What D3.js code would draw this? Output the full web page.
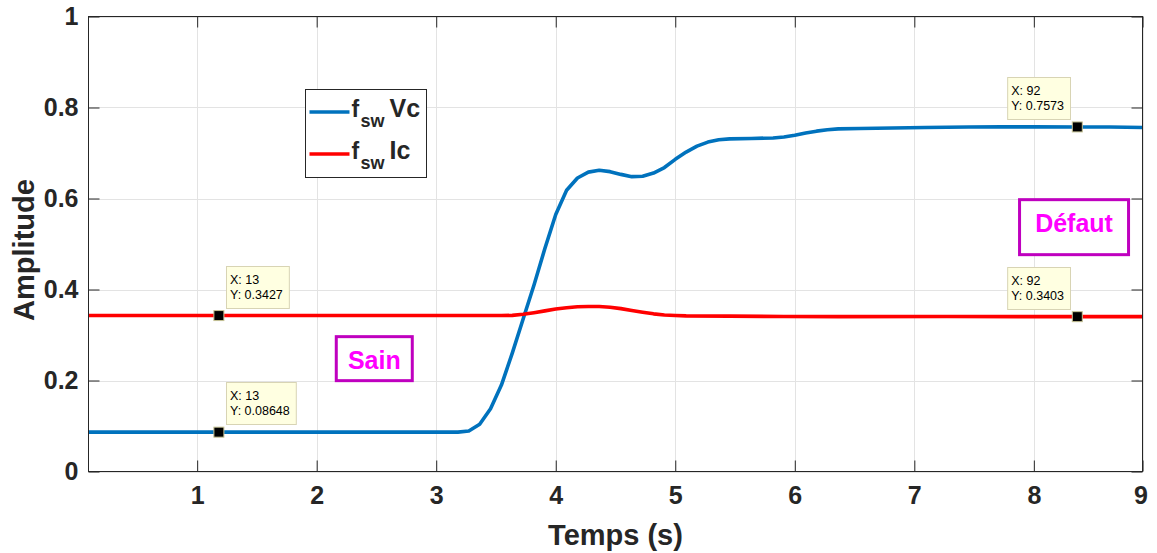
<!DOCTYPE html>
<html>
<head>
<meta charset="utf-8">
<script src="https://cdn.jsdelivr.net/npm/d3@7"></script>
<style>
  html, body { margin: 0; padding: 0; background: #fff; }
  svg { display: block; }
  text { font-family: "Liberation Sans", Arial, Helvetica, sans-serif; }
</style>
</head>
<body>
<svg id="chart" width="1157" height="553"></svg>
<script>
// ---- data (x in sample index, labelled in seconds) ----
const vcIndex = [1, 13, 25, 34, 35, 36, 37, 38, 39, 40, 41, 42, 43, 44, 45, 46, 47, 48, 49, 50, 51, 52, 53, 54, 55, 56, 57, 58, 59, 60, 62, 64, 65, 66, 67, 68, 69, 70, 72, 75, 78, 82, 85, 88, 92, 95, 98];
const vcValues = [0.08648, 0.08648, 0.08648, 0.0865, 0.0866, 0.089, 0.104, 0.138, 0.19, 0.26, 0.335, 0.41, 0.49, 0.565, 0.618, 0.645, 0.658, 0.662, 0.659, 0.653, 0.648, 0.649, 0.656, 0.668, 0.686, 0.702, 0.715, 0.724, 0.729, 0.731, 0.732, 0.733, 0.735, 0.739, 0.744, 0.748, 0.751, 0.753, 0.754, 0.755, 0.756, 0.757, 0.7575, 0.7575, 0.7573, 0.757, 0.756];
const icIndex = [1, 13, 39, 40, 41, 42, 43, 44, 45, 46, 47, 48, 49, 50, 51, 52, 53, 54, 55, 56, 60, 65, 70, 80, 92, 98];
const icValues = [0.3427, 0.3427, 0.3427, 0.3432, 0.3455, 0.349, 0.353, 0.357, 0.360, 0.362, 0.3628, 0.3625, 0.361, 0.358, 0.354, 0.350, 0.3465, 0.344, 0.3428, 0.342, 0.3415, 0.3405, 0.3403, 0.3405, 0.3403, 0.3403];

const xTickValues = [11, 22, 33, 44, 55, 66, 77, 88, 98];
const xTickLabels = ["1", "2", "3", "4", "5", "6", "7", "8", "9"];
const yTickValues = [0, 0.2, 0.4, 0.6, 0.8, 1];
const yTickLabels = ["0", "0.2", "0.4", "0.6", "0.8", "1"];

const seriesNames = ["Vc", "Ic"];
const seriesColors = ["#0072BD", "#FF0000"];

const tipX = [13, 13, 92, 92];
const tipY = [0.3427, 0.08648, 0.7573, 0.3403];
const tipSide = ["right", "right", "left", "left"];

const annotations = ["Sain", "Défaut"];
const annotX = [27.3, 91.7];
const annotY = [0.248, 0.537];

// ---- layout ----
const svg = d3.select("#chart");
const L = 88.5, R = 1142.5, T = 16.5, B = 471.5;
const x = d3.scaleLinear().domain([1, 98]).range([L, R]);
const y = d3.scaleLinear().domain([0, 1]).range([B, T]);
const ink = "#262626";

// grid
const grid = svg.append("g");
grid.selectAll(".gx").data(xTickValues).join("line")
  .attr("x1", d => Math.round(x(d)) + 0.5).attr("x2", d => Math.round(x(d)) + 0.5)
  .attr("y1", T).attr("y2", B)
  .attr("stroke", "#e3e3e3").attr("stroke-width", 1);
grid.selectAll(".gy").data(yTickValues).join("line")
  .attr("x1", L).attr("x2", R)
  .attr("y1", d => Math.round(y(d)) + 0.5).attr("y2", d => Math.round(y(d)) + 0.5)
  .attr("stroke", "#e3e3e3").attr("stroke-width", 1);

// lines
const line = d3.line().x(d => x(d[0])).y(d => y(d[1]));
const seriesData = [
  d3.zip(vcIndex, vcValues),
  d3.zip(icIndex, icValues)
];
svg.append("g").selectAll("path").data(seriesData).join("path")
  .attr("d", line)
  .attr("fill", "none")
  .attr("stroke", (d, i) => seriesColors[i])
  .attr("stroke-width", 3.6)
  .attr("stroke-linejoin", "round");

// axes
function styleAxis(g) {
  g.select(".domain").remove();
  g.selectAll(".tick line").attr("stroke", ink).attr("stroke-width", 1);
  g.selectAll(".tick text").attr("fill", ink).attr("font-weight", "bold").attr("font-size", 25);
}
const xFmt = d => xTickLabels[xTickValues.indexOf(d)];
const yFmt = d => yTickLabels[yTickValues.indexOf(d)];

svg.append("g").attr("transform", `translate(0,${B})`)
  .call(d3.axisBottom(x).tickValues(xTickValues).tickFormat(xFmt).tickSize(-11).tickPadding(15))
  .call(styleAxis)
  .call(g => g.selectAll(".tick").filter(d => d === 98).select("text").attr("dx", -2));
svg.append("g").attr("transform", `translate(0,${T})`)
  .call(d3.axisTop(x).tickValues(xTickValues).tickFormat("").tickSize(-11))
  .call(styleAxis);
svg.append("g").attr("transform", `translate(${L},0)`)
  .call(d3.axisLeft(y).tickValues(yTickValues).tickFormat(yFmt).tickSize(-11).tickPadding(10))
  .call(styleAxis);
svg.append("g").attr("transform", `translate(${R},0)`)
  .call(d3.axisRight(y).tickValues(yTickValues).tickFormat("").tickSize(-11))
  .call(styleAxis);

// box
svg.append("rect").attr("x", L).attr("y", T).attr("width", R - L).attr("height", B - T)
  .attr("fill", "none").attr("stroke", ink).attr("stroke-width", 1);

// axis labels
svg.append("text").attr("x", (L + R) / 2).attr("y", 545).attr("text-anchor", "middle")
  .attr("font-size", 29).attr("font-weight", "bold").attr("fill", ink).text("Temps (s)");
svg.append("text").attr("transform", `translate(34,${(T + B) / 2 + 6}) rotate(-90)`)
  .attr("text-anchor", "middle")
  .attr("font-size", 29).attr("font-weight", "bold").attr("fill", ink).text("Amplitude");

// legend
const lg = svg.append("g").attr("transform", "translate(305.5,89.5)");
lg.append("rect").attr("width", 121).attr("height", 88).attr("fill", "#fff").attr("stroke", ink).attr("stroke-width", 1);
seriesNames.forEach((name, i) => {
  const cy = 22.5 + i * 42;
  lg.append("line").attr("x1", 4).attr("x2", 44).attr("y1", cy).attr("y2", cy)
    .attr("stroke", seriesColors[i]).attr("stroke-width", 3.6);
  const t = lg.append("g").attr("font-weight", "bold").attr("fill", ink);
  t.append("text").attr("x", 46).attr("y", cy + 5).attr("font-size", 23).text("f");
  t.append("text").attr("x", 55).attr("y", cy + 15).attr("font-size", 18).text("sw");
  t.append("text").attr("x", 84).attr("y", cy + 5).attr("font-size", 25).text(name);
});

// annotations
const annotBox = [[76, 44], [109, 55]];
const annotTextDy = [10, 5];
annotations.forEach((s, i) => {
  const g = svg.append("g");
  const cx = x(annotX[i]), cy = y(annotY[i]);
  const [bw, bh] = annotBox[i];
  g.append("rect")
    .attr("x", cx - bw / 2).attr("y", cy - bh / 2).attr("width", bw).attr("height", bh)
    .attr("fill", "#fff").attr("stroke", "#BF00BF").attr("stroke-width", 3);
  g.append("text").attr("x", cx).attr("y", cy + annotTextDy[i])
    .attr("text-anchor", "middle")
    .attr("font-size", 25).attr("font-weight", "bold").attr("fill", "#FF00FF").text(s);
});

// data tips
tipX.forEach((xi, k) => {
  const mx = x(xi), my = y(tipY[k]);
  const g = svg.append("g");
  const lines = ["X: " + xi, "Y: " + tipY[k]];
  const tg = g.append("g");
  const t1 = tg.append("text").attr("font-size", 12.5).attr("fill", "#000").attr("x", 0).attr("y", 0).text(lines[0]);
  const t2 = tg.append("text").attr("font-size", 12.5).attr("fill", "#000").attr("x", 0).attr("y", 14.5).text(lines[1]);
  const w = Math.max(t1.node().getComputedTextLength(), t2.node().getComputedTextLength()) + 10;
  const h = 42;
  const bx = tipSide[k] === "right" ? Math.round(mx) + 7 : Math.round(mx) - 7 - w;
  const by = Math.round(my) - 8 - h;
  g.insert("rect", "g").attr("x", bx + 0.5).attr("y", by + 0.5).attr("width", w).attr("height", h)
    .attr("fill", "#FFFFE1").attr("stroke", "#d8d4b4").attr("stroke-width", 1);
  tg.attr("transform", `translate(${bx + 4},${by + 18})`);
  g.append("rect").attr("x", mx - 5).attr("y", my - 5).attr("width", 10).attr("height", 10)
    .attr("fill", "#000").attr("stroke", "#c8c496").attr("stroke-width", 1);
});
</script>
</body>
</html>
